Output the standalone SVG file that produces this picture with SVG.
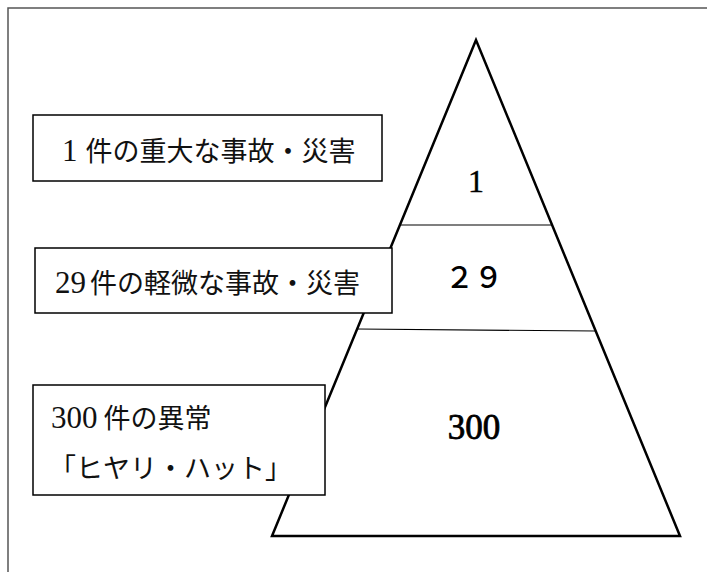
<svg xmlns="http://www.w3.org/2000/svg" width="707" height="572" viewBox="0 0 707 572">
  <style>
    .frame { fill: none; stroke: #555; stroke-width: 1.5; }
    .tri { fill: #fff; stroke: #000; stroke-width: 2.5; stroke-linejoin: miter; }
    .div { stroke: #000; stroke-width: 1.2; }
    .box { fill: #fff; stroke: #000; stroke-width: 1.5; }
    .lbl { font-family: "Liberation Serif", "Noto Sans CJK JP", serif; font-size: 27px; fill: #111; }
    .dig { font-size: 31px; }
    .num { font-family: "Liberation Serif", "Noto Sans CJK JP", serif; fill: #000; text-anchor: middle; }
  </style>
  <rect x="0" y="0" width="707" height="572" fill="#fff"/>
  <rect class="frame" x="8" y="8" width="710" height="580"/>
  <g id="pyramid">
    <polygon class="tri" points="476,40 272,536 680,536"/>
  </g>
  <g id="connectors">
    <line class="div" x1="400" y1="225" x2="552" y2="225"/>
    <line class="div" x1="357" y1="329" x2="596" y2="331"/>
  </g>
  <g id="level1">
    <text class="num" x="476" y="192" font-size="32" stroke="#000" stroke-width="0.4">1</text>
  </g>
  <g id="level2">
    <text class="num" x="474" y="288" font-size="29" font-weight="500" font-family="Noto Sans CJK JP, sans-serif">２９</text>
  </g>
  <g id="level3">
    <text class="num" x="474" y="439" font-size="35" stroke="#000" stroke-width="0.8">300</text>
  </g>
  <g id="box1">
    <rect class="box" x="33" y="115" width="349" height="66"/>
    <text class="lbl" x="62" y="161"><tspan class="dig">1</tspan><tspan dx="8">件の重大な事故・災害</tspan></text>
  </g>
  <g id="box2">
    <rect class="box" x="35" y="248" width="357" height="65"/>
    <text class="lbl" x="55" y="293" font-size="28"><tspan class="dig">29</tspan><tspan dx="4">件の軽微な事故・災害</tspan></text>
  </g>
  <g id="box3">
    <rect class="box" x="33" y="385" width="292" height="110"/>
    <text class="lbl" x="51" y="428" font-size="28"><tspan class="dig">300</tspan><tspan dx="6">件の異常</tspan></text>
    <text class="lbl" x="49" y="478" font-size="28">「ヒヤリ・ハット」</text>
  </g>
</svg>
